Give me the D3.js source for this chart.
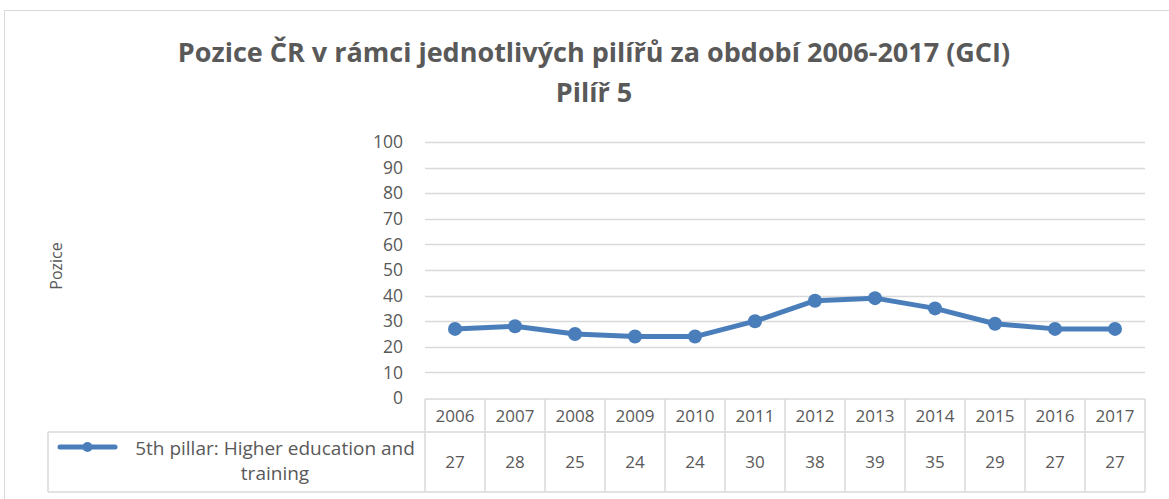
<!DOCTYPE html>
<html><head><meta charset="utf-8">
<script src="https://cdn.jsdelivr.net/npm/d3@7"></script>
<style>body{margin:0;background:#fff}svg{display:block;font-family:"Open Sans",sans-serif}</style>
</head><body>
<svg id="c" width="1169" height="499"></svg>
<script>
const years = ["2006","2007","2008","2009","2010","2011","2012","2013","2014","2015","2016","2017"];
const values = [27,28,25,24,24,30,38,39,35,29,27,27];
const yTicks = [0,10,20,30,40,50,60,70,80,90,100];
const seriesName = ["5th pillar: Higher education and","training"];
const titleLines = ["Pozice ČR v rámci jednotlivých pilířů za období 2006-2017 (GCI)","Pilíř 5"];
const yLabel = "Pozice";

const svg = d3.select("#c");
const color = "#4a7ebb", grid = "#d9d9d9", txt = "#595959";
const L = 425, R = 1145, T = 142, B = 398;

svg.append("rect").attr("x",4.5).attr("y",10.5).attr("width",1200).attr("height",600)
  .attr("fill","none").attr("stroke","#d9d9d9");

svg.append("text").attr("x",594).attr("y",62).attr("text-anchor","middle")
  .attr("font-size",27).attr("font-weight","bold").attr("fill",txt).text(titleLines[0]);
svg.append("text").attr("x",594).attr("y",102).attr("text-anchor","middle")
  .attr("font-size",27).attr("font-weight","bold").attr("fill",txt).text(titleLines[1]);

const x = d3.scaleBand().domain(years).range([L,R]);
const y = d3.scaleLinear().domain([0,100]).range([B,T]);

// gridlines
svg.append("g").selectAll("line").data(yTicks.filter(d=>d>0)).join("line")
  .attr("x1",L).attr("x2",R).attr("y1",d=>Math.round(y(d))+0.5).attr("y2",d=>Math.round(y(d))+0.5)
  .attr("stroke",grid).attr("stroke-width",1.3);

// y axis labels
const ya = svg.append("g").attr("transform",`translate(${L-22},0)`)
  .call(d3.axisLeft(y).tickValues(yTicks).tickSize(0).tickPadding(0));
ya.select(".domain").remove();
ya.selectAll("text").attr("font-size",17.5).attr("fill",txt).attr("font-family","'Open Sans', sans-serif");

svg.append("text").attr("transform","translate(62,266) rotate(-90)").attr("text-anchor","middle")
  .attr("font-size",16).attr("fill",txt).text(yLabel);

// data table
const rowTop = 399, rowMid = 432, rowBot = 492, legL = 48;
const tb = svg.append("g").attr("stroke",grid).attr("stroke-width",1.5).attr("fill","none");
tb.append("line").attr("x1",L).attr("x2",R).attr("y1",rowTop).attr("y2",rowTop);
tb.append("line").attr("x1",legL).attr("x2",R).attr("y1",rowMid).attr("y2",rowMid);
tb.append("line").attr("x1",legL).attr("x2",R).attr("y1",rowBot).attr("y2",rowBot);
tb.append("line").attr("x1",legL).attr("x2",legL).attr("y1",rowMid).attr("y2",rowBot);
tb.selectAll(".v").data(years.map(d=>x(d)).concat([R])).join("line")
  .attr("x1",d=>d).attr("x2",d=>d).attr("y1",rowTop).attr("y2",rowBot);

svg.append("g").selectAll("text").data(years).join("text")
  .attr("x",d=>x(d)+x.bandwidth()/2).attr("y",(rowTop+rowMid)/2+6).attr("text-anchor","middle")
  .attr("font-size",17).attr("fill",txt).text(d=>d);
svg.append("g").selectAll("text").data(values).join("text")
  .attr("x",(d,i)=>x(years[i])+x.bandwidth()/2).attr("y",(rowMid+rowBot)/2+6).attr("text-anchor","middle")
  .attr("font-size",17).attr("fill",txt).text(d=>d);

// legend key
svg.append("line").attr("x1",60).attr("x2",115).attr("y1",447).attr("y2",447)
  .attr("stroke",color).attr("stroke-width",5).attr("stroke-linecap","round");
svg.append("circle").attr("cx",87.5).attr("cy",447).attr("r",5).attr("fill",color);
svg.append("text").attr("x",275).attr("y",455).attr("text-anchor","middle")
  .attr("font-size",19).attr("fill",txt).text(seriesName[0]);
svg.append("text").attr("x",275).attr("y",480).attr("text-anchor","middle")
  .attr("font-size",19).attr("fill",txt).text(seriesName[1]);

// line
const line = d3.line().x((d,i)=>x(years[i])+x.bandwidth()/2).y(d=>y(d));
svg.append("path").datum(values).attr("d",line).attr("fill","none")
  .attr("stroke",color).attr("stroke-width",5).attr("stroke-linejoin","round");
svg.append("g").selectAll("circle").data(values).join("circle")
  .attr("cx",(d,i)=>x(years[i])+x.bandwidth()/2).attr("cy",d=>y(d)).attr("r",7).attr("fill",color);
</script>
</body></html>
